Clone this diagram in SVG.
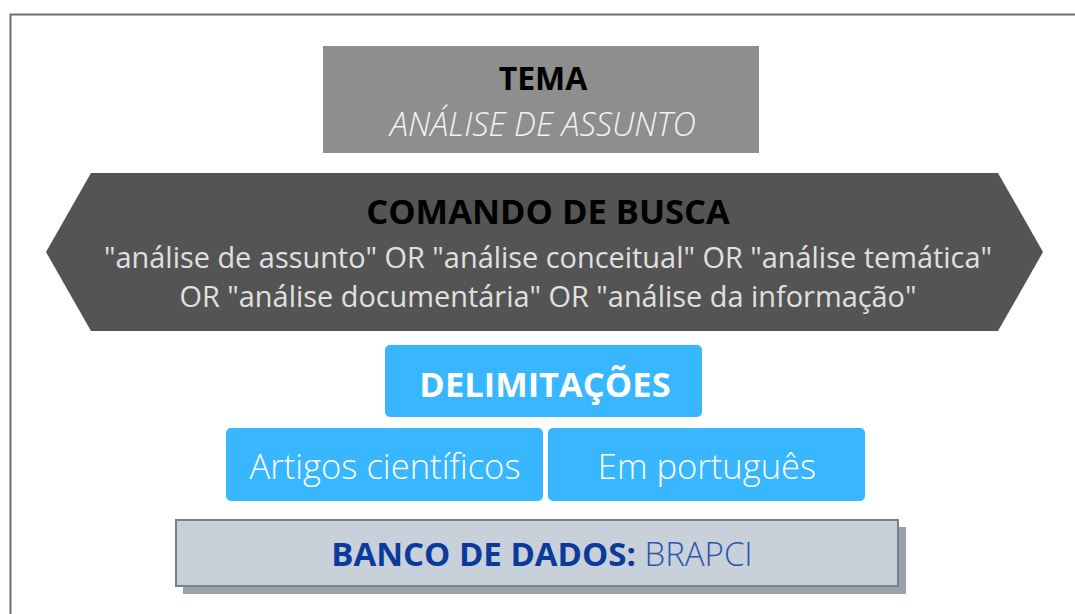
<svg xmlns="http://www.w3.org/2000/svg" width="1075" height="614" viewBox="0 0 1075 614">
<style>
text{font-family:"Open Sans","Noto Sans","Liberation Sans",sans-serif;text-anchor:middle}
.b{font-weight:700}
.l{font-weight:300}
.blue{fill:#38b6ff}
</style>
<rect x="0" y="0" width="1075" height="614" fill="#ffffff"/>
<path d="M10.5 614 V14.5 H1075" fill="none" stroke="#6e6e6e" stroke-width="2"/>
<g id="tema">
<rect x="323" y="46" width="436" height="107" fill="#8e8e8e"/>
<text x="543" y="90" class="b" font-size="32" fill="#000">TEMA</text>
<text x="543" y="136" class="l" font-size="32.5" font-style="italic" fill="#f2f2f2">ANÁLISE DE ASSUNTO</text>
</g>
<g id="comando">
<polygon points="46,252 91,173 998,173 1043,252 998,331 91,331" fill="#545454"/>
<text x="548" y="224" class="b" font-size="34.5" fill="#000">COMANDO DE BUSCA</text>
<text x="548" y="268" font-size="28.9" fill="#e0e0e0">"análise de assunto" OR "análise conceitual" OR "análise temática"</text>
<text x="548" y="307" font-size="28.9" fill="#e0e0e0">OR "análise documentária" OR "análise da informação"</text>
</g>
<g id="delimitacoes">
<rect x="385" y="345" width="317" height="72" rx="5" class="blue"/>
<text x="545" y="397" class="b" font-size="34.5" fill="#fff">DELIMITAÇÕES</text>
</g>
<g id="artigos">
<rect x="226" y="428" width="317" height="73" rx="5" class="blue"/>
<text x="385" y="479" class="l" font-size="34.6" fill="#fff">Artigos científicos</text>
</g>
<g id="portugues">
<rect x="548" y="428" width="317" height="73" rx="5" class="blue"/>
<text x="707" y="479" class="l" font-size="34.6" fill="#fff">Em português</text>
</g>
<g id="banco">
<rect x="183" y="527" width="723" height="67" fill="#98a2ad"/>
<rect x="176" y="520" width="722" height="66" fill="#c8d0da" stroke="#7a8088" stroke-width="2"/>
<text x="542" y="566" font-size="33"><tspan class="b" fill="#0a3a9c">BANCO DE DADOS:</tspan><tspan class="l" fill="#2a56b2"> BRAPCI</tspan></text>
</g>
<g id="connectors"></g>
</svg>
